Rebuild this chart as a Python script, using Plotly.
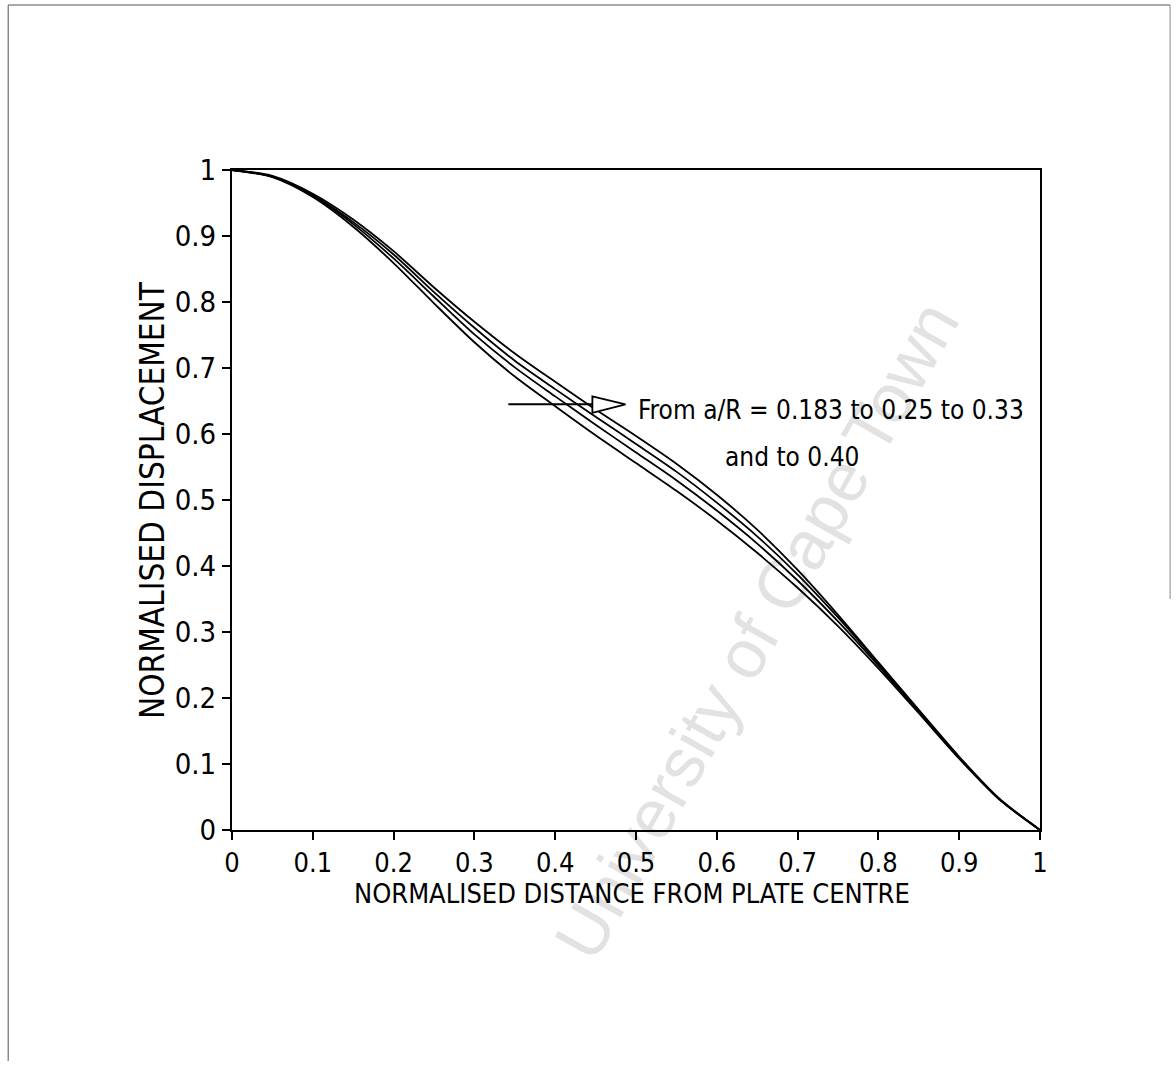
import plotly.graph_objects as go

# ---- data ----
x_vals = [0.0, 0.05, 0.1, 0.15, 0.2, 0.25, 0.3, 0.35, 0.4, 0.45, 0.5,
          0.55, 0.6, 0.65, 0.7, 0.75, 0.8, 0.85, 0.9, 0.95, 1.0]
disp_0183 = [1.0, 0.989, 0.959, 0.914, 0.859, 0.798, 0.739, 0.687, 0.642, 0.598, 0.556,
             0.514, 0.469, 0.420, 0.367, 0.309, 0.245, 0.177, 0.108, 0.046, 0.0]
disp_025 = [1.0, 0.990, 0.961, 0.918, 0.866, 0.808, 0.751, 0.701, 0.657, 0.614, 0.572,
            0.530, 0.484, 0.434, 0.378, 0.316, 0.249, 0.179, 0.109, 0.046, 0.0]
disp_033 = [1.0, 0.990, 0.962, 0.921, 0.872, 0.815, 0.761, 0.711, 0.668, 0.626, 0.585,
            0.543, 0.496, 0.445, 0.387, 0.322, 0.252, 0.181, 0.110, 0.047, 0.0]
disp_040 = [1.0, 0.991, 0.964, 0.925, 0.877, 0.822, 0.770, 0.722, 0.679, 0.637, 0.597,
            0.555, 0.508, 0.455, 0.394, 0.326, 0.254, 0.182, 0.111, 0.047, 0.0]
series = [("a/R = 0.183", disp_0183), ("a/R = 0.25", disp_025),
          ("a/R = 0.33", disp_033), ("a/R = 0.40", disp_040)]
tick_vals = [0, 0.1, 0.2, 0.3, 0.4, 0.5, 0.6, 0.7, 0.8, 0.9, 1]
tick_text = ["0", "0.1", "0.2", "0.3", "0.4", "0.5", "0.6", "0.7", "0.8", "0.9", "1"]

FONT = "DejaVu Sans Condensed, Liberation Sans Narrow, DejaVu Sans, sans-serif"

fig = go.Figure()
for name, ys in series:
    fig.add_trace(go.Scatter(x=x_vals, y=ys, mode="lines", name=name,
                             line=dict(color="black", width=1.8, shape="spline", smoothing=0.8),
                             showlegend=False, hoverinfo="skip"))

axis_common = dict(range=[0, 1], showgrid=False, zeroline=False, showline=True,
                   linecolor="black", linewidth=2, mirror=True, ticks="outside",
                   ticklen=8, tickwidth=1.5, tickcolor="black",
                   tickvals=tick_vals, ticktext=tick_text)

fig.update_layout(
    width=1176, height=1066,
    margin=dict(l=232, r=136, t=170, b=236),
    paper_bgcolor="white", plot_bgcolor="rgba(0,0,0,0)",
    xaxis=dict(**axis_common, tickfont=dict(family=FONT, size=27, color="black")),
    yaxis=dict(**axis_common, tickfont=dict(family=FONT, size=29, color="black")),
)

# axis titles placed as annotations (paper coords)
fig.add_annotation(xref="paper", yref="paper", x=(632 - 232) / 808, y=(830 - 893) / 660,
                   xanchor="center", yanchor="middle", showarrow=False,
                   text="NORMALISED DISTANCE FROM PLATE CENTRE",
                   font=dict(family=FONT, size=27, color="black"))
fig.add_annotation(xref="paper", yref="paper", x=(152 - 232) / 808, y=0.5,
                   xanchor="center", yanchor="middle", showarrow=False, textangle=-90,
                   text="NORMALISED DISPLACEMENT",
                   font=dict(family=FONT, size=33, color="black"))

# watermark (below traces)
fig.add_shape(type="line", xref="paper", yref="paper",
              x0=(612 - 232) / 808, y0=(830 - 955) / 660,
              x1=(962 - 232) / 808, y1=(830 - 340) / 660,
              line=dict(width=0, color="rgba(0,0,0,0)"), layer="below",
              label=dict(text="University of Cape Town", textposition="middle",
                         font=dict(family="Liberation Sans, Arial, sans-serif", size=69,
                                   color="#e2e2e2")))

# page border of the scan
fig.add_shape(type="line", xref="paper", yref="paper", x0=-0.277, x1=-0.277, y0=1.25, y1=-0.35,
              line=dict(color="#555", width=1))
fig.add_shape(type="line", xref="paper", yref="paper", x0=-0.277, x1=1.161, y0=1.25, y1=1.25,
              line=dict(color="#555", width=1))
fig.add_shape(type="line", xref="paper", yref="paper", x0=1.161, x1=1.161, y0=1.25, y1=0.35,
              line=dict(color="#888", width=1))

# arrow annotation
fig.add_shape(type="line", x0=0.342, y0=0.645, x1=0.446, y1=0.645,
              line=dict(color="black", width=2))
fig.add_shape(type="path", path="M 0.446 0.657 L 0.487 0.645 L 0.446 0.632 Z",
              line=dict(color="black", width=1.8), fillcolor="white")

fig.add_annotation(x=0.500, y=0.637, xanchor="left", yanchor="middle", showarrow=False,
                   text="From a/R = 0.183 to 0.25 to 0.33",
                   font=dict(family=FONT, size=26, color="black"))
fig.add_annotation(x=0.608, y=0.565, xanchor="left", yanchor="middle", showarrow=False,
                   text="and to 0.40",
                   font=dict(family=FONT, size=26, color="black"))

fig.write_html("out.html")
